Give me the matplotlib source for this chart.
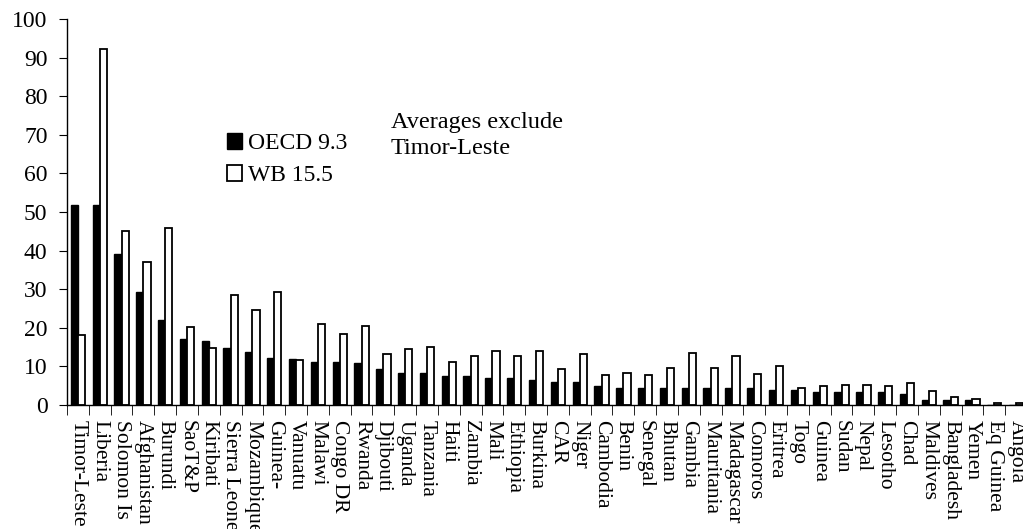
import matplotlib.pyplot as plt
import numpy as np

plt.rcParams['font.family'] = ['Liberation Serif', 'DejaVu Serif']

countries = ['Timor-Leste', 'Liberia', 'Solomon Is', 'Afghanistan', 'Burundi',
             'SaoT&P', 'Kiribati', 'Sierra Leone', 'Mozambique', 'Guinea-',
             'Vanuatu', 'Malawi', 'Congo DR', 'Rwanda', 'Djibouti', 'Uganda',
             'Tanzania', 'Haiti', 'Zambia', 'Mali', 'Ethiopia', 'Burkina',
             'CAR', 'Niger', 'Cambodia', 'Benin', 'Senegal', 'Bhutan',
             'Gambia', 'Mauritania', 'Madagascar', 'Comoros', 'Eritrea',
             'Togo', 'Guinea', 'Sudan', 'Nepal', 'Lesotho', 'Chad',
             'Maldives', 'Bangladesh', 'Yemen', 'Eq Guinea', 'Angola']
oecd = [51.8, 51.8, 39.2, 29.4, 22.1, 17.1, 16.7, 14.7, 13.8, 12.3,
        11.8, 11.2, 11.2, 10.8, 9.4, 8.4, 8.4, 7.4, 7.4, 6.9,
        6.9, 6.4, 6.0, 6.0, 5.0, 4.5, 4.5, 4.5, 4.5, 4.5,
        4.5, 4.4, 3.8, 3.8, 3.3, 3.3, 3.3, 3.3, 2.9, 1.4,
        1.2, 1.2, 0.0, 0.0]
wb = [18.2, 92.2, 45.0, 37.0, 45.9, 20.1, 14.7, 28.4, 24.5, 29.4,
      11.6, 21.0, 18.5, 20.5, 13.2, 14.6, 15.1, 11.2, 12.7, 14.1,
      12.7, 14.1, 9.3, 13.2, 7.8, 8.3, 7.8, 9.7, 13.6, 9.7,
      12.7, 8.1, 10.0, 4.3, 4.8, 5.3, 5.3, 4.8, 5.6, 3.7,
      2.1, 1.6, 0.6, 0.6]
labels = ['OECD 9.3', 'WB 15.5']
note = 'Averages exclude\nTimor-Leste'

fig = plt.figure(figsize=(10.23, 5.29), dpi=100)
ax = fig.add_axes([67 / 1023, 1 - 405 / 529, 960 / 1023, 386 / 529])

x = np.arange(len(countries))
w = 0.33
ax.bar(x - w / 2, oecd, w, color='black', edgecolor='black', linewidth=1,
       label=labels[0])
ax.bar(x + w / 2, wb, w, color='white', edgecolor='black', linewidth=1.3,
       label=labels[1])

ax.set_xlim(-0.5, len(countries) - 0.5)
ax.set_ylim(0, 100)
ax.set_yticks(np.arange(0, 101, 10))
ax.tick_params(axis='y', labelsize=17, length=6, direction='out', pad=8)

# category labels at centres, tick marks at boundaries
ax.set_xticks(x)
ax.set_xticklabels(countries, rotation=270, fontsize=15.5, va='top')
ax.tick_params(axis='x', which='major', length=0, pad=11)
ax.set_xticks(np.arange(-0.5, len(countries), 1), minor=True)
ax.tick_params(axis='x', which='minor', length=7, direction='out')

for s in ['top', 'right']:
    ax.spines[s].set_visible(False)
for s in ['left', 'bottom']:
    ax.spines[s].set_linewidth(1)

ax.legend(loc='upper left', bbox_to_anchor=(227 / 1023, 1 - 133 / 529),
          bbox_transform=fig.transFigure, frameon=False, fontsize=17,
          handlelength=0.65, handleheight=0.65, handletextpad=0.25,
          labelspacing=0.45, borderpad=0, borderaxespad=0)

fig.text(391 / 1023, 1 - 154 / 529, note, fontsize=17.5, va='baseline',
         ha='left', linespacing=1.3)

fig.savefig('out.png', dpi=100)
